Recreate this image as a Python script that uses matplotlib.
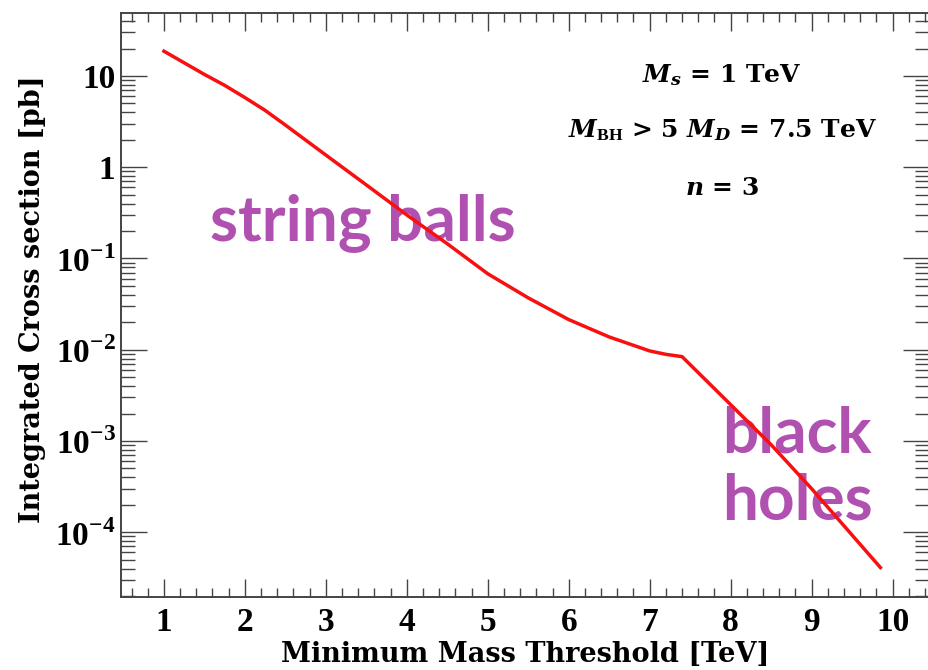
import matplotlib
matplotlib.use("Agg")
import matplotlib.pyplot as plt
from matplotlib.ticker import FixedLocator, MultipleLocator, LogLocator, NullFormatter

# integrated cross section vs. minimum mass threshold
threshold_tev = [1.0, 1.5, 1.75, 2.0, 2.25, 2.5, 3.0, 3.5, 4.0, 4.5, 5.0, 5.5, 6.0, 6.5,
                 7.0, 7.2, 7.4, 8.0, 8.5, 9.0, 9.5, 9.85]
xsec_pb = [18.7, 10.4, 7.9, 5.8, 4.2, 2.9, 1.36, 0.64, 0.30, 0.145, 0.068, 0.037, 0.0214,
           0.0138, 0.0097, 0.0089, 0.0084, 0.0025, 9.1e-4, 3.0e-4, 9.3e-5, 4.1e-5]

y_ticks = [1e-4, 1e-3, 1e-2, 1e-1, 1, 10]
y_labels = ["$10^{-4}$", "$10^{-3}$", "$10^{-2}$", "$10^{-1}$", "1", "10"]
x_ticks = [1, 2, 3, 4, 5, 6, 7, 8, 9, 10]

plt.rcParams["font.family"] = "Liberation Serif"
plt.rcParams["font.weight"] = "bold"
plt.rcParams["mathtext.fontset"] = "custom"
plt.rcParams["mathtext.rm"] = "Liberation Serif:bold"
plt.rcParams["mathtext.it"] = "DejaVu Serif:bold:italic"
plt.rcParams["mathtext.bf"] = "Liberation Serif:bold"

fig = plt.figure(figsize=(9.29, 6.70), dpi=100)
ax = fig.add_axes([121 / 929, 1 - 597 / 670, 808 / 929, 584 / 670])

ax.plot(threshold_tev, xsec_pb, color="#f81010", lw=2.5, zorder=5)

ax.set_yscale("log")
ax.set_xlim(0.47, 10.45)
ax.set_ylim(1.95e-5, 49)

# axis ticks, drawn inward on all four sides
ax.xaxis.set_major_locator(FixedLocator(x_ticks))
ax.xaxis.set_minor_locator(MultipleLocator(0.2))
ax.set_xticklabels([str(v) for v in x_ticks])
ax.yaxis.set_major_locator(FixedLocator(y_ticks))
ax.yaxis.set_minor_locator(LogLocator(base=10, subs=range(2, 10), numticks=20))
ax.yaxis.set_minor_formatter(NullFormatter())
ax.set_yticklabels(y_labels)

tick_col = "#444444"
ax.tick_params(axis="both", which="both", direction="in", top=True, right=True,
               colors=tick_col, labelcolor="black", width=1.0, labelsize=24)
ax.tick_params(axis="x", which="major", length=13, pad=7)
ax.tick_params(axis="x", which="minor", length=6.5)
ax.tick_params(axis="y", which="major", length=19, pad=4)
ax.tick_params(axis="y", which="minor", length=10)
for s in ax.spines.values():
    s.set_color(tick_col)
    s.set_linewidth(1.4)

ax.set_xlabel("Minimum Mass Threshold [TeV]", fontsize=19.5, fontweight="bold",
              family="DejaVu Serif", labelpad=2)
ax.set_ylabel("Integrated Cross section [pb]", fontsize=19.5, fontweight="bold",
              family="DejaVu Serif")
ax.yaxis.set_label_coords(-0.093, 0.51)

# model parameters
params = [r"$M_s$ = 1 TeV", r"$M_{\mathrm{BH}}$ > 5 $M_D$ = 7.5 TeV", r"$n$ = 3"]
param_y = [0.894, 0.80, 0.70]
for txt, yy in zip(params, param_y):
    ax.text(0.744, yy, txt, transform=ax.transAxes, ha="center", va="center",
            fontsize=18, family="DejaVu Serif", fontweight="bold")

purple = "#b050b0"
ax.text(0.110, 0.611, "string balls", transform=ax.transAxes, ha="left",
        va="baseline", fontsize=46, color=purple, family="Lato", fontweight="bold",
        zorder=2)
ax.text(0.744, 0.248, "black", transform=ax.transAxes, ha="left", va="baseline",
        fontsize=46, color=purple, family="Lato", fontweight="bold", zorder=2)
ax.text(0.744, 0.132, "holes", transform=ax.transAxes, ha="left", va="baseline",
        fontsize=46, color=purple, family="Lato", fontweight="bold", zorder=2)

fig.savefig("out.png", dpi=100)
